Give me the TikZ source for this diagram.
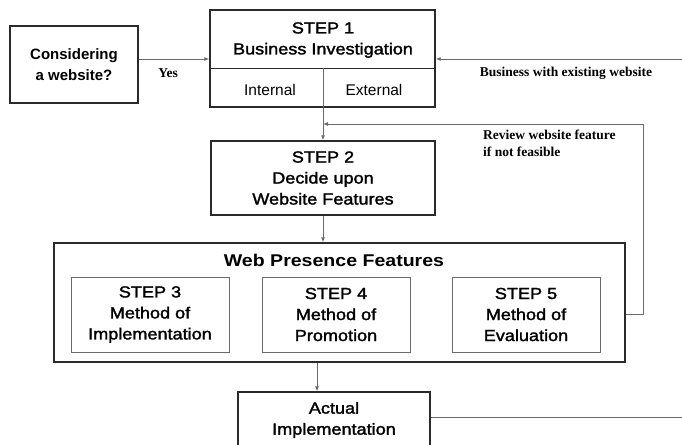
\documentclass[tikz,border=0pt]{standalone}
\usepackage{fontspec}
\setmainfont{Liberation Sans}
\newfontfamily\widemed[FakeStretch=1.13,FakeBold=1.8]{Liberation Sans}
\newfontfamily\widebold[FakeStretch=1.15]{Liberation Sans Bold}
\newfontfamily\serifb{Liberation Serif Bold}
\usetikzlibrary{arrows.meta}
\definecolor{boxline}{HTML}{2A2A2A}
\definecolor{connline}{HTML}{6A6A6A}
\tikzset{
  bigbox/.style={draw=boxline, line width=1.4pt, inner sep=0pt, align=center},
  smallbox/.style={draw=connline, line width=0.9pt, inner sep=0pt, align=center},
  txt/.style={inner sep=0pt, align=center},
  steptxt/.style={txt, font=\widemed\fontsize{16}{21}\selectfont},
  lbl/.style={inner sep=0pt, align=left, font=\serifb\fontsize{13.5}{17}\selectfont},
  conn/.style={draw=connline, line width=0.9pt},
  arr/.style={conn, -{Latex[length=5pt,width=4pt]}},
}
\begin{document}
\begin{tikzpicture}[x=1pt,y=-1pt]
\useasboundingbox (0,0) rectangle (682,444);
% boxes
\node[bigbox, minimum width=128pt, minimum height=77pt, font=\bfseries\fontsize{15}{21}\selectfont] (cons) at (74,64.5) {Considering\\a website?};
\node[bigbox, minimum width=225pt, minimum height=97pt] (s1) at (322.5,58.5) {};
\coordinate (div) at (323,68);
\draw[draw=boxline, line width=1pt] (s1.west |- div) -- (s1.east |- div);
\draw[conn] (div) -- (div |- s1.south);
\node[steptxt] (s1t) at (323,40) {STEP 1\\Business Investigation};
\node[txt, font=\fontsize{15.5}{18}\selectfont] (int) at (270,90) {Internal};
\node[txt, font=\fontsize{15.5}{18}\selectfont] (ext) at (374,90) {External};

\node[bigbox, minimum width=224pt, minimum height=74pt, font=\widemed\fontsize{16}{21}\selectfont] (s2) at (323,178) {STEP 2\\Decide upon\\Website Features};

\node[bigbox, minimum width=571pt, minimum height=119pt] (wpf) at (339.5,302.5) {};
\node[txt, font=\widebold\fontsize{17}{20}\selectfont] (wpft) at (334,260) {Web Presence Features};
\node[smallbox, minimum width=158pt, minimum height=75pt, font=\widemed\fontsize{16}{21}\selectfont] (s3) at (150,314.5) {STEP 3\\Method of\\Implementation};
\node[smallbox, minimum width=148pt, minimum height=75pt, font=\widemed\fontsize{16}{21}\selectfont] (s4) at (336,314.5) {STEP 4\\Method of\\Promotion};
\node[smallbox, minimum width=148pt, minimum height=75pt, font=\widemed\fontsize{16}{21}\selectfont] (s5) at (526,314.5) {STEP 5\\Method of\\Evaluation};

\node[bigbox, minimum width=192pt, minimum height=56pt, font=\widemed\fontsize{16}{21}\selectfont] (act) at (334,420) {Actual\\Implementation};

% labels
\node[lbl] (yes) at (168,73) {Yes};
\node[lbl] (bwe) at (566,73) {Business with existing website};
\node[lbl, anchor=north west] (rev) at (483,130) {Review website feature\\if not feasible};

% connectors
\coordinate (r1) at (682,59);
\draw[arr] (r1 -| cons.east) -- (r1 -| s1.west);
\draw[arr] (r1) -- (r1 -| s1.east);
\draw[arr] (s2.north |- s1.south) -- (s2.north);
\coordinate (fb) at (643,124);
\draw[arr] (wpf.east |- s5.east) -- (fb |- s5.east) -- (fb) -- (fb -| s2.north);
\draw[arr] (s2.south) -- (s2.south |- wpf.north);
\coordinate (dn) at (317,0);
\draw[arr] (dn |- wpf.south) -- (dn |- act.north);
\coordinate (r2) at (682,417);
\draw[conn] (r2 -| act.east) -- (r2);
\end{tikzpicture}
\end{document}
